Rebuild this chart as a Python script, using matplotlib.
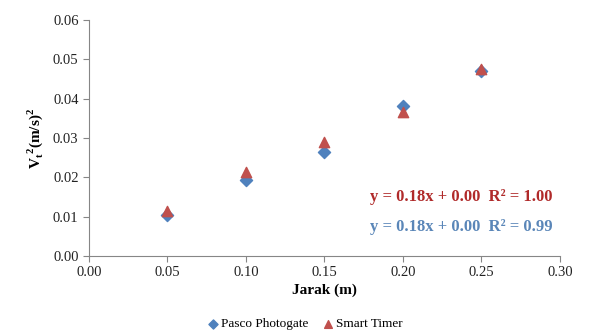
import matplotlib
matplotlib.use("Agg")
import matplotlib.pyplot as plt

plt.rcParams['font.family'] = ['Liberation Serif', 'DejaVu Serif']
plt.rcParams['mathtext.fontset'] = 'custom'
plt.rcParams['mathtext.rm'] = 'Liberation Serif'
plt.rcParams['mathtext.bf'] = 'Liberation Serif:bold'

jarak = [0.05, 0.10, 0.15, 0.20, 0.25]
pasco = [0.0105, 0.0193, 0.0264, 0.0382, 0.0471]
smart = [0.0115, 0.0214, 0.0291, 0.0366, 0.0476]
xticks = [0.00, 0.05, 0.10, 0.15, 0.20, 0.25, 0.30]
yticks = [0.00, 0.01, 0.02, 0.03, 0.04, 0.05, 0.06]

blue = '#4F81BD'
red = '#C0504D'

fig = plt.figure(figsize=(5.97, 3.35), dpi=100)
ax = fig.add_axes([0.149, 0.236, 0.789, 0.704])

ax.scatter(jarak, pasco, marker='D', s=38, color=blue, label='Pasco Photogate', zorder=3)
ax.scatter(jarak, smart, marker='^', s=55, color=red, label='Smart Timer', zorder=4)

ax.set_xlim(0, 0.30)
ax.set_ylim(0, 0.06)
ax.set_xticks(xticks)
ax.set_yticks(yticks)
ax.set_xticklabels([f"{v:.2f}" for v in xticks])
ax.set_yticklabels([f"{v:.2f}" for v in yticks])
for s in ['top', 'right']:
    ax.spines[s].set_visible(False)
for s in ['left', 'bottom']:
    ax.spines[s].set_color('#868686')
ax.tick_params(axis='both', colors='#868686', labelcolor='#222222', labelsize=10.5, length=4, direction='out')

ax.set_xlabel('Jarak (m)', fontsize=11, fontweight='bold', labelpad=3)
ax.set_ylabel(r'V$_\mathbf{t}$$^\mathbf{2}$(m/s)$^\mathbf{2}$', fontsize=11, fontweight='bold', labelpad=6)

fig.text(553/597, 1 - 197/335, 'y = 0.18x + 0.00  R² = 1.00', color='#B02A2A',
         fontsize=12, fontweight='bold', ha='right', va='center')
fig.text(553/597, 1 - 227/335, 'y = 0.18x + 0.00  R² = 0.99', color='#5A86B8',
         fontsize=12, fontweight='bold', ha='right', va='center')

fig.legend(loc='center', bbox_to_anchor=(0.51, 1 - 324/335), ncol=2, frameon=False,
           fontsize=9.5, handletextpad=0.1, handlelength=1.0, columnspacing=1.0, markerscale=0.75)

fig.savefig('out.png', dpi=100)
